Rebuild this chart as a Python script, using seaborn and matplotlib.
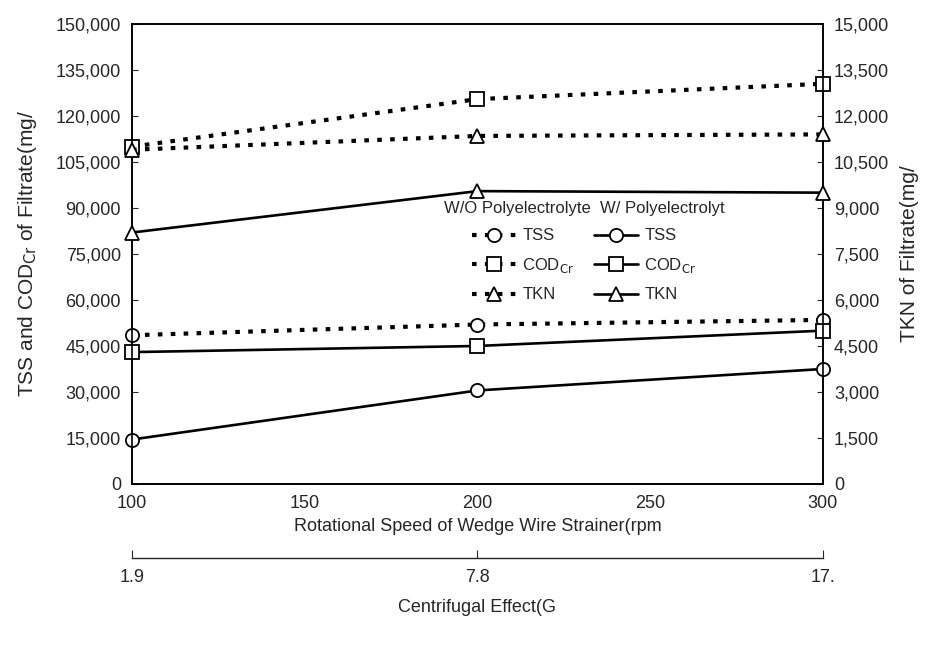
import pandas as pd
import matplotlib
matplotlib.use("Agg")
import matplotlib.pyplot as plt
import seaborn as sns
from matplotlib.ticker import FuncFormatter, MultipleLocator


speed = [100, 200, 300]
g_labels = ["1.9", "7.8", "17."]

tss_wo = [48500, 52000, 53500]
cod_wo = [110000, 125500, 130500]
tkn_wo = [10900, 11350, 11400]

tss_w = [14500, 30500, 37500]
cod_w = [43000, 45000, 50000]
tkn_w = [8200, 9550, 9500]

sns.set_style("white")
plt.rcParams["font.family"] = ["Liberation Sans Narrow", "Liberation Sans", "DejaVu Sans"]

df = pd.DataFrame({
    "speed": speed,
    "tss_wo": tss_wo, "cod_wo": cod_wo, "tkn_wo": tkn_wo,
    "tss_w": tss_w, "cod_w": cod_w, "tkn_w": tkn_w,
})

fig, ax = plt.subplots(figsize=(9.35, 6.52), dpi=100)
fig.subplots_adjust(left=0.1412, right=0.880, bottom=0.2577, top=0.9632)
ax2 = ax.twinx()

dot = (0, (1.1, 2.0))
mk = dict(markersize=9.5, markerfacecolor="white", markeredgecolor="black", markeredgewidth=1.3)

series = [
    # column, axis, marker, dotted?, label
    ("tss_wo", ax, "o", True, "TSS"),
    ("cod_wo", ax, "s", True, r"COD$_{\mathrm{Cr}}$"),
    ("tkn_wo", ax2, "^", True, "TKN"),
    ("tss_w", ax, "o", False, "TSS"),
    ("cod_w", ax, "s", False, r"COD$_{\mathrm{Cr}}$"),
    ("tkn_w", ax2, "^", False, "TKN"),
]

handles = []
for col, a, m, dotted, lab in series:
    sns.lineplot(
        data=df, x="speed", y=col, ax=a,
        color="black",
        linewidth=3.0 if dotted else 1.9,
        linestyle=dot if dotted else "-",
        marker=m, label=lab, legend=False,
        clip_on=False, zorder=3,
        **mk
    )
    handles.append(a.lines[-1])

fmt = FuncFormatter(lambda v, p: f"{v:,.0f}")

ax.set_xlim(100, 300)
ax.set_ylim(0, 150000)
ax2.set_ylim(0, 15000)
ax.xaxis.set_major_locator(MultipleLocator(50))
ax.yaxis.set_major_locator(MultipleLocator(15000))
ax2.yaxis.set_major_locator(MultipleLocator(1500))
ax.yaxis.set_major_formatter(fmt)
ax2.yaxis.set_major_formatter(fmt)

ax.tick_params(axis="both", direction="in", length=4, width=0.8, labelsize=13, pad=8)
ax2.tick_params(axis="y", direction="in", length=4, width=0.8, labelsize=13, pad=8)

for a in (ax, ax2):
    for s in a.spines.values():
        s.set_color("black")
        s.set_linewidth(1.2)

ax.set_xlabel("Rotational Speed of Wedge Wire Strainer(rpm", fontsize=13, labelpad=4)
ax.set_ylabel(r"TSS and COD$_{\mathrm{Cr}}$ of Filtrate(mg/", fontsize=15,
              family=["Liberation Sans", "DejaVu Sans"], labelpad=12)
ax2.set_ylabel("TKN of Filtrate(mg/", fontsize=15,
               family=["Liberation Sans", "DejaVu Sans"], labelpad=8)

sec = ax.secondary_xaxis(-0.161)
sec.set_xticks(speed)
sec.set_xticklabels(g_labels)
sec.tick_params(direction="in", length=6, width=0.8, labelsize=13, pad=8)
sec.spines["bottom"].set_linewidth(1.0)
sec.set_xlabel("Centrifugal Effect(G", fontsize=13, labelpad=9)

leg = ax2.legend(
    handles=handles,
    labels=[h.get_label() for h in handles],
    ncol=2,
    loc="upper center",
    bbox_to_anchor=(0.655, 0.648),
    frameon=False,
    title="W/O Polyelectrolyte  W/ Polyelectrolyt",
    title_fontsize=12,
    fontsize=12,
    handlelength=2.6,
    handletextpad=0.4,
    columnspacing=1.2,
    labelspacing=0.75,
)

plt.savefig("out.png", dpi=100)
